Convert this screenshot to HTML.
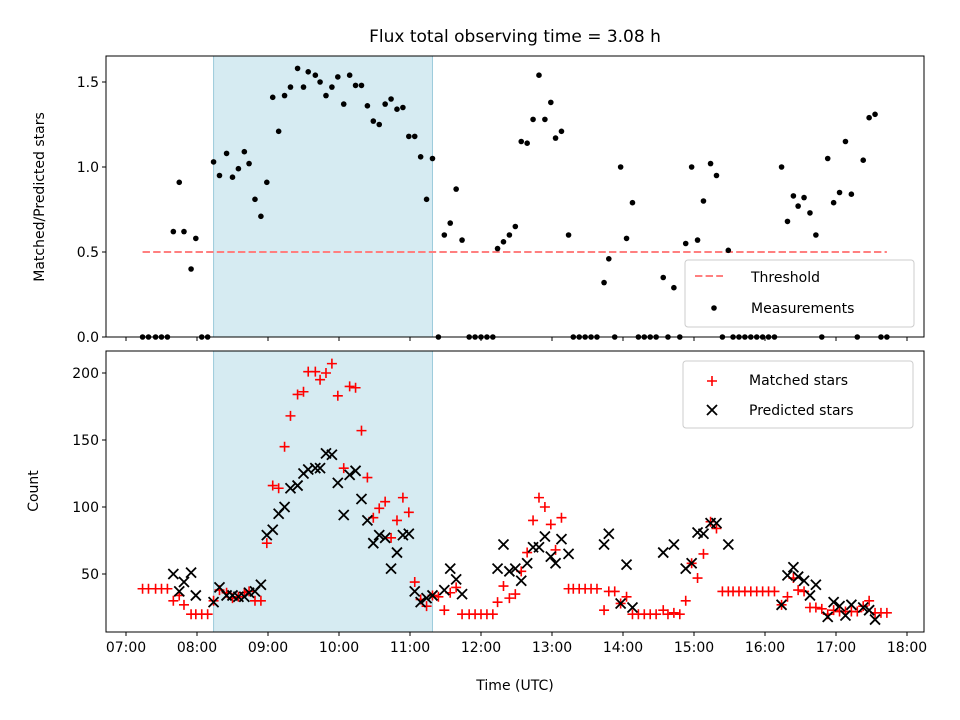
<!DOCTYPE html>
<html><head><meta charset="utf-8"><style>
body{margin:0;background:#fff;}
svg{display:block;font-family:"DejaVu Sans","Liberation Sans",sans-serif;}
</style></head><body>
<svg id="chart" width="960" height="720" viewBox="0 0 960 720" xmlns="http://www.w3.org/2000/svg">
<rect width="960" height="720" fill="#fff"/>
<g id="g"></g>
</svg>
<script>
// minutes after 07:00 UTC
const timesMin = [14,19,25,30,35,40,45,49,55,59,64,69,74,79,85,90,95,100,104,109,114,119,124,129,134,139,145,150,154,160,164,169,174,179,184,189,194,199,204,209,214,219,224,229,234,239,244,249,254,259,264,269,274,279,284,290,295,300,305,310,314,319,324,329,334,339,344,349,354,359,363,368,374,378,383,388,393,398,404,408,413,418,423,428,433,438,443,448,454,458,463,468,473,478,483,488,494,499,504,509,513,518,523,528,533,538,543,548,554,559,564,568,573,578,583,588,593,598,603,608,613,618,623,628,633,638,643];
const ratioVals = [0,0,0,0,0,.62,.91,.62,.40,.58,0,0,1.03,.95,1.08,.94,.99,1.09,1.02,.81,.71,.91,1.41,1.21,1.42,1.47,1.58,1.47,1.56,1.54,1.50,1.42,1.47,1.53,1.37,1.54,1.48,1.48,1.36,1.27,1.25,1.37,1.40,1.34,1.35,1.18,1.18,1.06,.81,1.05,0,.60,.67,.87,.57,0,0,0,0,0,.52,.56,.60,.65,1.15,1.14,1.28,1.54,1.28,1.38,1.17,1.21,.60,0,0,0,0,0,.32,.46,0,1.00,.58,.79,0,0,0,0,.35,0,.29,0,.55,1.00,.57,.80,1.02,.95,0,.51,0,0,0,0,0,0,0,0,1.00,.68,.83,.77,.82,.73,.60,0,1.05,.79,.85,1.15,.84,0,1.04,1.29,1.31,0,0];
const matchedVals = [39,39,39,39,39,30,34,27,20,20,20,20,30,38,36,32,33,36,37,30,30,73,116,114,145,168,184,186,201,201,195,200,207,183,129,190,189,157,122,92,99,104,77,90,107,96,44,31,26,34,33,23,36,40,20,20,20,20,20,20,29,41,32,35,52,66,90,107,100,87,68,92,39,39,39,39,39,39,23,37,37,28,33,20,20,20,20,20,23,20,21,20,30,58,47,65,89,84,37,37,37,37,37,37,37,37,37,37,27,33,47,38,37,25,25,24,20,23,22,22,22,22,26,30,21,21,21];
const predictedVals = [null,null,null,null,null,50,37,44,51,34,null,null,29,40,34,34,33,33,36,37,42,79,83,95,100,114,116,125,128,129,129,140,139,118,94,124,127,106,90,73,79,77,54,66,79,80,37,29,32,34,null,38,54,46,35,null,null,null,null,null,54,72,52,54,45,58,70,70,78,63,58,76,65,null,null,null,null,null,72,80,null,28,57,25,null,null,null,null,66,null,72,null,54,58,81,80,88,88,null,72,null,null,null,null,null,null,null,null,27,49,55,48,45,34,42,null,18,29,26,19,27,null,25,23,16,null,null];
const hourLabels = ["07:00","08:00","09:00","10:00","11:00","12:00","13:00","14:00","15:00","16:00","17:00","18:00"];
const ratioTicks = [0,0.5,1.0,1.5];
const countTicks = [50,100,150,200];
const thresholdVal = 0.5;
const spanMin = [74, 259];

const NS="http://www.w3.org/2000/svg";
const g=document.getElementById('g');
function el(tag,attrs,parent){const e=document.createElementNS(NS,tag);for(const k in attrs)e.setAttribute(k,attrs[k]);(parent||g).appendChild(e);return e;}
const L=106,R=924;
const xS=m=>126+m*71/60;
const yTop=v=>337-v*170;
const yBot=v=>574-(v-50)*1.34;
const T1=56,B1=337,T2=351,B2=632;

// spans
for(const [t,b] of [[T1,B1],[T2,B2]]){
  const s=el('rect',{x:xS(spanMin[0]),y:t,width:xS(spanMin[1])-xS(spanMin[0]),height:b-t,fill:'#add8e6','fill-opacity':0.5,stroke:'#9ccbdb','stroke-width':1});
  
  
}
// threshold
const firstX=xS(timesMin[0]), lastX=xS(timesMin[timesMin.length-1]);
const th=el('line',{x1:firstX,x2:lastX,y1:yTop(thresholdVal),y2:yTop(thresholdVal),stroke:'#ff7f7f','stroke-width':2,'stroke-dasharray':'7.4 3.2'});


// measurements
ratioVals.forEach((v,i)=>{
  const c=el('circle',{cx:xS(timesMin[i]),cy:yTop(v),r:2.8,fill:'#000'});
  
  
});
// matched / predicted
const s=5;
matchedVals.forEach((v,i)=>{
  if(v==null)return;
  const x=xS(timesMin[i]),y=yBot(v);
  const p=el('path',{d:`M${x-s} ${y}H${x+s}M${x} ${y-s}V${y+s}`,stroke:'#ff0000','stroke-width':1.6,fill:'none'});
  
  
});
predictedVals.forEach((v,i)=>{
  if(v==null)return;
  const x=xS(timesMin[i]),y=yBot(v);
  const p=el('path',{d:`M${x-s} ${y-s}L${x+s} ${y+s}M${x-s} ${y+s}L${x+s} ${y-s}`,stroke:'#000','stroke-width':1.8,fill:'none'});
  
  
});
// frames
for(const [t,b,n] of [[T1,B1,'top-plot-frame'],[T2,B2,'bottom-plot-frame']]){
  const f=el('rect',{x:L,y:t,width:R-L,height:b-t,fill:'none',stroke:'#000','stroke-width':1});
  
  
}
// x ticks
hourLabels.forEach((lab,i)=>{
  const x=xS(i*60);
  el('line',{x1:x,x2:x,y1:B1,y2:B1+4,stroke:'#000'});
  el('line',{x1:x,x2:x,y1:B2,y2:B2+4,stroke:'#000'});
  const t=el('text',{x:x,y:B2+20,'font-size':14,'text-anchor':'middle'});
  t.textContent=lab;
  
  
});
ratioTicks.forEach(v=>{
  const y=yTop(v);
  el('line',{x1:L-4,x2:L,y1:y,y2:y,stroke:'#000'});
  const t=el('text',{x:L-7,y:y+5,'font-size':14,'text-anchor':'end'});
  t.textContent=v.toFixed(1);
  
  
});
countTicks.forEach(v=>{
  const y=yBot(v);
  el('line',{x1:L-4,x2:L,y1:y,y2:y,stroke:'#000'});
  const t=el('text',{x:L-7,y:y+5,'font-size':14,'text-anchor':'end'});
  t.textContent=v;
  
  
});
</script>
<svg width="960" height="720" style="position:absolute;left:0;top:0" xmlns="http://www.w3.org/2000/svg" font-family="DejaVu Sans, Liberation Sans, sans-serif">
<text x="515" y="42" font-size="17" text-anchor="middle">Flux total observing time = 3.08 h</text>
<text transform="translate(44,197) rotate(-90)" font-size="14" text-anchor="middle">Matched/Predicted stars</text>
<text transform="translate(38,491) rotate(-90)" font-size="14" text-anchor="middle">Count</text>
<text x="515" y="690" font-size="14" text-anchor="middle">Time (UTC)</text>
<g>
<rect x="685" y="260" width="229" height="67" rx="3" fill="#fff" fill-opacity="0.8" stroke="#ccc"/>
<line x1="695" x2="723" y1="276" y2="276" stroke="#ff7f7f" stroke-width="2" stroke-dasharray="7.4 3.2"/>
<text x="751" y="282" font-size="14">Threshold</text>
<circle cx="714" cy="308" r="2.8" fill="#000"/>
<text x="751" y="313" font-size="14">Measurements</text>
</g>
<g>
<rect x="683" y="361" width="230" height="67" rx="3" fill="#fff" fill-opacity="0.8" stroke="#ccc"/>
<path d="M707 381H717M712 376V386" stroke="#f00" stroke-width="1.6"/>
<text x="749" y="385" font-size="14">Matched stars</text>
<path d="M707 405L717 415M707 415L717 405" stroke="#000" stroke-width="1.8"/>
<text x="749" y="415" font-size="14">Predicted stars</text>
</g>
</svg>
</body></html>
